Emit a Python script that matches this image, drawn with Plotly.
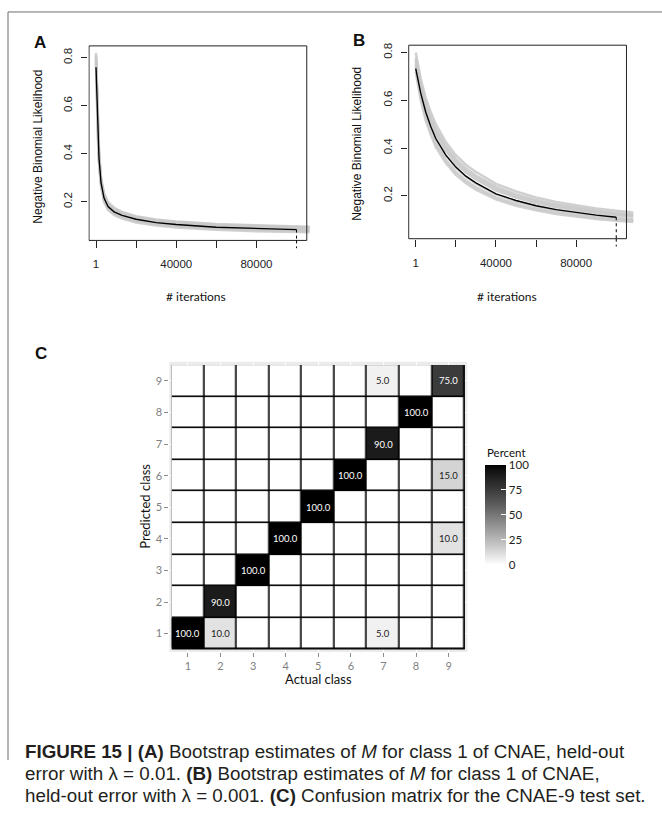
import plotly.graph_objects as go

# ------------------------------------------------------------------ data
# Panel A (lambda = 0.01): mean curve and bootstrap curves
ITER_A = [1, 500, 1000, 1500, 2500, 4000, 6000, 9000, 13000, 20000, 30000, 40000, 60000, 80000, 100000]
ITER_A_BOOT = [1, 500, 1000, 1500, 2500, 4000, 6000, 9000, 13000, 20000, 30000, 40000, 60000, 80000, 100000, 106500]
NBL_A_MEAN = [0.76, 0.60, 0.47, 0.38, 0.28, 0.215, 0.18, 0.158, 0.143, 0.127, 0.113, 0.105, 0.094, 0.088, 0.084]
BOOT_A1 = [0.82, 0.64, 0.50, 0.41, 0.30, 0.235, 0.198, 0.175, 0.158, 0.140, 0.126, 0.118, 0.107, 0.101, 0.097, 0.096]
BOOT_A2 = [0.80, 0.62, 0.48, 0.39, 0.29, 0.225, 0.190, 0.167, 0.151, 0.134, 0.120, 0.112, 0.101, 0.095, 0.091, 0.090]
BOOT_A3 = [0.78, 0.60, 0.46, 0.37, 0.27, 0.207, 0.172, 0.150, 0.135, 0.119, 0.106, 0.098, 0.088, 0.082, 0.079, 0.078]
BOOT_A4 = [0.79, 0.59, 0.45, 0.36, 0.265, 0.200, 0.166, 0.145, 0.130, 0.114, 0.101, 0.093, 0.083, 0.077, 0.074, 0.073]
BOOT_A5 = [0.81, 0.63, 0.49, 0.40, 0.295, 0.228, 0.193, 0.170, 0.154, 0.137, 0.123, 0.115, 0.104, 0.098, 0.094, 0.093]
BOOT_A6 = [0.77, 0.61, 0.47, 0.38, 0.28, 0.215, 0.180, 0.158, 0.143, 0.127, 0.113, 0.105, 0.094, 0.088, 0.084, 0.083]
BOOT_A7 = [0.80, 0.605, 0.465, 0.375, 0.275, 0.210, 0.176, 0.154, 0.139, 0.123, 0.109, 0.101, 0.091, 0.085, 0.081, 0.080]

# Panel B (lambda = 0.001)
ITER_B = [1, 1000, 2500, 5000, 7500, 10000, 15000, 20000, 25000, 30000, 40000, 50000, 60000, 70000, 80000, 90000, 100000]
ITER_B_BOOT = [1, 1000, 2500, 5000, 7500, 10000, 15000, 20000, 25000, 30000, 40000, 50000, 60000, 70000, 80000, 90000, 100000, 108500]
NBL_B_MEAN = [0.733, 0.69, 0.63, 0.55, 0.49, 0.44, 0.37, 0.32, 0.282, 0.254, 0.208, 0.180, 0.158, 0.142, 0.129, 0.119, 0.110]
BOOT_B1 = [0.80, 0.75, 0.69, 0.61, 0.55, 0.50, 0.425, 0.37, 0.33, 0.30, 0.25, 0.218, 0.193, 0.174, 0.159, 0.147, 0.137, 0.130]
BOOT_B2 = [0.78, 0.73, 0.67, 0.59, 0.53, 0.48, 0.41, 0.355, 0.315, 0.285, 0.238, 0.206, 0.182, 0.164, 0.150, 0.138, 0.128, 0.121]
BOOT_B3 = [0.76, 0.71, 0.65, 0.57, 0.51, 0.46, 0.39, 0.335, 0.297, 0.268, 0.222, 0.192, 0.169, 0.152, 0.138, 0.127, 0.118, 0.112]
BOOT_B4 = [0.75, 0.70, 0.635, 0.555, 0.49, 0.44, 0.37, 0.318, 0.28, 0.251, 0.206, 0.177, 0.156, 0.140, 0.127, 0.116, 0.108, 0.102]
BOOT_B5 = [0.74, 0.685, 0.62, 0.535, 0.47, 0.42, 0.35, 0.30, 0.264, 0.236, 0.193, 0.166, 0.146, 0.131, 0.118, 0.108, 0.100, 0.095]
BOOT_B6 = [0.72, 0.67, 0.60, 0.515, 0.455, 0.405, 0.337, 0.288, 0.253, 0.226, 0.185, 0.158, 0.139, 0.124, 0.112, 0.103, 0.095, 0.090]
BOOT_B7 = [0.77, 0.72, 0.66, 0.58, 0.52, 0.47, 0.40, 0.345, 0.305, 0.276, 0.230, 0.199, 0.176, 0.158, 0.144, 0.133, 0.123, 0.117]

X_TICKS = [1, 20000, 40000, 60000, 80000]
X_TICK_TEXT = ["1", "", "40000", "", "80000"]
Y_TICKS = [0.2, 0.4, 0.6, 0.8]
Y_TICK_TEXT = ["0.2", "0.4", "0.6", "0.8"]

# Panel C: confusion matrix (rows = predicted class, cols = actual class), percent
CLASSES = [1, 2, 3, 4, 5, 6, 7, 8, 9]
PRED_1 = [100, 10, 0, 0, 0, 0, 5, 0, 0]
PRED_2 = [0, 90, 0, 0, 0, 0, 0, 0, 0]
PRED_3 = [0, 0, 100, 0, 0, 0, 0, 0, 0]
PRED_4 = [0, 0, 0, 100, 0, 0, 0, 0, 10]
PRED_5 = [0, 0, 0, 0, 100, 0, 0, 0, 0]
PRED_6 = [0, 0, 0, 0, 0, 100, 0, 0, 15]
PRED_7 = [0, 0, 0, 0, 0, 0, 90, 0, 0]
PRED_8 = [0, 0, 0, 0, 0, 0, 0, 100, 0]
PRED_9 = [0, 0, 0, 0, 0, 0, 5, 0, 75]
CONF = [PRED_1, PRED_2, PRED_3, PRED_4, PRED_5, PRED_6, PRED_7, PRED_8, PRED_9]
CB_TICKS = [0, 25, 50, 75, 100]

# ------------------------------------------------------------------ styles
W, H = 662, 816
R_FONT = "Liberation Sans, Arial, sans-serif"
GG_FONT = "Lato, Open Sans, sans-serif"
GREY_LINE = "rgba(200,200,200,0.85)"


def px_x(p):
    return p / W


def px_y(p):
    return 1 - p / H


def lab_gray(t):
    L = 100.0 * (1 - t)
    fy = (L + 16) / 116
    Y = fy ** 3 if fy ** 3 > 0.008856 else L / 903.3
    v = 1.055 * Y ** (1 / 2.4) - 0.055 if Y > 0.0031308 else 12.92 * Y
    g = int(round(255 * max(0.0, min(1.0, v))))
    return f"rgb({g},{g},{g})"


GRAY_SCALE = [[i / 20, lab_gray(i / 20)] for i in range(21)]

fig = go.Figure()

# Panel A
for curve in [BOOT_A1, BOOT_A2, BOOT_A3, BOOT_A4, BOOT_A5, BOOT_A6, BOOT_A7]:
    fig.add_trace(go.Scatter(x=ITER_A_BOOT, y=curve, mode="lines", xaxis="x", yaxis="y",
                             line=dict(color=GREY_LINE, width=2.5), showlegend=False, hoverinfo="skip"))
fig.add_trace(go.Scatter(x=ITER_A, y=NBL_A_MEAN, mode="lines", xaxis="x", yaxis="y",
                         line=dict(color="black", width=1.4), showlegend=False))
# Panel B
for curve in [BOOT_B1, BOOT_B2, BOOT_B3, BOOT_B4, BOOT_B5, BOOT_B6, BOOT_B7]:
    fig.add_trace(go.Scatter(x=ITER_B_BOOT, y=curve, mode="lines", xaxis="x2", yaxis="y2",
                             line=dict(color=GREY_LINE, width=2.5), showlegend=False, hoverinfo="skip"))
fig.add_trace(go.Scatter(x=ITER_B, y=NBL_B_MEAN, mode="lines", xaxis="x2", yaxis="y2",
                         line=dict(color="black", width=1.4), showlegend=False))

# Panel C heatmap
fig.add_trace(go.Heatmap(
    x=CLASSES, y=CLASSES, z=CONF, zmin=0, zmax=100, colorscale=GRAY_SCALE,
    xgap=1.6, ygap=1.6, xaxis="x3", yaxis="y3", showscale=True,
    hovertemplate="actual %{x}<br>predicted %{y}<br>%{z}<extra></extra>",
    colorbar=dict(x=px_x(485), xanchor="left", y=px_y(514), yanchor="middle",
                  lenmode="pixels", len=100, thickness=21, outlinewidth=0,
                  tickvals=CB_TICKS, ticks="inside", ticklen=5, tickcolor="white",
                  tickfont=dict(family=GG_FONT, size=11.5, color="#222"),
                  xpad=0, ypad=0),
))

XR = [-3800, 109500]
YRA = [0.039, 0.849]
YRB = [0.020, 0.831]
BOX_RIGHT = 105100
BOX_LEFT = -3500

axis_common = dict(showgrid=False, zeroline=False, showline=False, ticks="outside",
                   tickcolor="#222", tickwidth=1,
                   tickfont=dict(family=R_FONT, size=11.5, color="#222"))

fig.update_layout(
    width=W, height=H, margin=dict(l=0, r=0, t=0, b=0),
    paper_bgcolor="white", plot_bgcolor="white", showlegend=False,
    xaxis=dict(domain=[px_x(88.4), px_x(315.6)], range=XR, anchor="y",
               tickvals=X_TICKS, ticktext=X_TICK_TEXT, ticklen=7, ticklabelstandoff=6, **axis_common),
    yaxis=dict(domain=[px_y(239), px_y(44)], range=YRA, anchor="x",
               tickvals=Y_TICKS, ticktext=Y_TICK_TEXT, tickangle=-90, ticklen=6, ticklabelstandoff=5,
               **axis_common),
    xaxis2=dict(domain=[px_x(408.1), px_x(635.3)], range=XR, anchor="y2",
                tickvals=X_TICKS, ticktext=X_TICK_TEXT, ticklen=7, ticklabelstandoff=6, **axis_common),
    yaxis2=dict(domain=[px_y(237.3), px_y(43.3)], range=YRB, anchor="x2",
                tickvals=Y_TICKS, ticktext=Y_TICK_TEXT, tickangle=-90, ticklen=6, ticklabelstandoff=5,
                **axis_common),
    xaxis3=dict(domain=[px_x(169.3), px_x(467.3)], range=[0.427, 9.573], anchor="y3",
                tickvals=CLASSES, ticks="outside", ticklen=4, tickcolor="#8c8c8c",
                showgrid=True, gridcolor="white", gridwidth=1, zeroline=False, showline=False,
                tickfont=dict(family=GG_FONT, size=11, color="#7f7f7f")),
    yaxis3=dict(domain=[px_y(651.7), px_y(360.7)], range=[0.415, 9.604], anchor="x3",
                tickvals=CLASSES, ticks="outside", ticklen=4, tickcolor="#8c8c8c",
                showgrid=True, gridcolor="white", gridwidth=1, zeroline=False, showline=False,
                tickfont=dict(family=GG_FONT, size=11, color="#7f7f7f")),
)

shapes = []
# plot boxes (A, B)
for xr, yr in [("x", "y domain"), ("x2", "y2 domain")]:
    shapes.append(dict(type="rect", xref=xr, yref=yr, x0=BOX_LEFT, x1=BOX_RIGHT, y0=0, y1=1,
                       line=dict(color="#222", width=1), fillcolor="rgba(0,0,0,0)", layer="above"))
# dashed marker at the last iteration
for xr, yr, xs, ys, yrange in [("x", "y", ITER_A, NBL_A_MEAN, YRA), ("x2", "y2", ITER_B, NBL_B_MEAN, YRB)]:
    shapes.append(dict(type="line", xref=xr, yref=yr, x0=xs[-1], x1=xs[-1], y0=ys[-1], y1=yrange[0],
                       line=dict(color="black", width=1, dash="3px,3px"), layer="above"))
    shapes.append(dict(type="line", xref=xr, yref=yr + " domain", x0=xs[-1], x1=xs[-1], y0=0, y1=-0.04,
                       line=dict(color="black", width=1, dash="3px,3px"), layer="above"))
# ggplot panel background and black tile borders
shapes.append(dict(type="rect", xref="x3 domain", yref="y3 domain", x0=0, x1=1, y0=0, y1=1,
                   fillcolor="#EBEBEB", line=dict(width=0), layer="below"))
shapes.append(dict(type="rect", xref="x3", yref="y3", x0=min(CLASSES) - 0.5, x1=max(CLASSES) + 0.5,
                   y0=min(CLASSES) - 0.5, y1=max(CLASSES) + 0.5,
                   fillcolor="black", line=dict(width=0), layer="between"))
# outer figure frame
shapes.append(dict(type="line", xref="paper", yref="paper", x0=px_x(8), x1=1, y0=px_y(10), y1=px_y(10),
                   line=dict(color="#6d6d6d", width=1)))
shapes.append(dict(type="line", xref="paper", yref="paper", x0=px_x(8), x1=px_x(8), y0=px_y(10), y1=px_y(760),
                   line=dict(color="#6d6d6d", width=1)))
fig.update_layout(shapes=shapes)

ann = []
# cell labels
for yi, row in zip(CLASSES, CONF):
    for xi, v in zip(CLASSES, row):
        if v > 0:
            ann.append(dict(x=xi, y=yi, xref="x3", yref="y3", text="%.1f" % v, showarrow=False,
                            font=dict(family=GG_FONT, size=9.5, color="white" if v > 50 else "#1a1a1a")))


def txt(x, y, s, size, family=R_FONT, angle=0, bold=False, xanchor="center", color="#111"):
    if bold:
        s = "<b>" + s + "</b>"
    return dict(x=px_x(x), y=px_y(y), xref="paper", yref="paper", text=s, showarrow=False,
                textangle=angle, xanchor=xanchor, yanchor="middle",
                font=dict(family=family, size=size, color=color))


ann += [
    txt(40, 40.5, "A", 17, bold=True),
    txt(359, 39, "B", 17, bold=True),
    txt(41, 352, "C", 17, bold=True),
    txt(38, 145, "Negative Binomial Likelihood", 12, angle=-90),
    txt(356.7, 142.5, "Negative Binomial Likelihood", 12, angle=-90),
    txt(196, 295, "# iterations", 12, family=GG_FONT),
    txt(506.5, 295, "# iterations", 12, family=GG_FONT),
    txt(145, 506, "Predicted class", 13, family=GG_FONT, angle=-90),
    txt(318.3, 679, "Actual class", 13, family=GG_FONT),
    txt(485, 451.7, "Percent", 11.5, family=GG_FONT, xanchor="left"),
]
CAP_FONT = "Liberation Sans, Arial, sans-serif"
ann += [
    txt(23, 751, "<b>FIGURE 15 | (A)</b> Bootstrap estimates of <i>M</i> for class 1 of CNAE, held-out",
        18.8, family=CAP_FONT, xanchor="left", color="#231f20"),
    txt(23, 773, "error with λ = 0.01. <b>(B)</b> Bootstrap estimates of <i>M</i> for class 1 of CNAE,",
        18.8, family=CAP_FONT, xanchor="left", color="#231f20"),
    txt(23, 795, "held-out error with λ = 0.001. <b>(C)</b> Confusion matrix for the CNAE-9 test set.",
        18.8, family=CAP_FONT, xanchor="left", color="#231f20"),
]
fig.update_layout(annotations=ann)

fig.write_html("out.html", config={"displayModeBar": False},
               post_script="document.body.style.margin='0px';")
